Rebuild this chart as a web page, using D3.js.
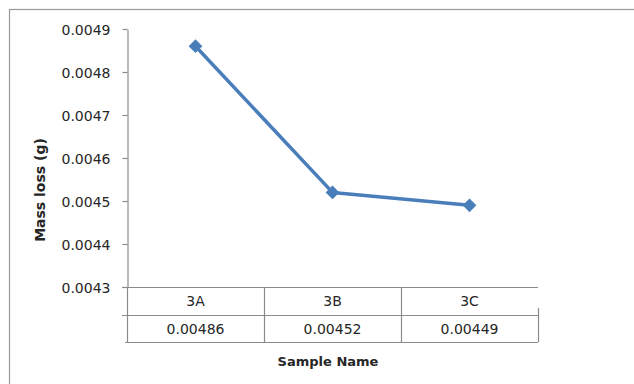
<!DOCTYPE html>
<html>
<head>
<meta charset="utf-8">
<script src="https://cdn.jsdelivr.net/npm/d3@7"></script>
<style>
  html, body { margin: 0; padding: 0; background: #fff; }
  svg { display: block; }
  text { font-family: "DejaVu Sans", sans-serif; fill: #262626; }
</style>
</head>
<body>
<svg id="chart" width="634" height="384"></svg>
<script>
// Sample names and their measured mass loss
const samples = ["3A", "3B", "3C"];
const massLoss = [0.00486, 0.00452, 0.00449];
const yTicks = [0.0043, 0.0044, 0.0045, 0.0046, 0.0047, 0.0048, 0.0049];
const yTitle = "Mass loss (g)";
const xTitle = "Sample Name";

const svg = d3.select("#chart");
const plot = { left: 127, right: 538, top: 29, bottom: 287 };
const rowH = [287, 315, 342];
const gridColor = "#8a8a8a";
const lineColor = "#4a7ebb";

// chart frame (runs past the right and bottom edges)
svg.append("rect")
  .attr("x", 9.5).attr("y", 9.5)
  .attr("width", 800).attr("height", 600)
  .attr("fill", "none").attr("stroke", "#9a9a9a").attr("stroke-width", 1.2);

const x = d3.scaleBand().domain(samples).range([plot.left, plot.right]);
const y = d3.scaleLinear().domain([0.0043, 0.0049]).range([plot.bottom, plot.top]);

// value axis
const yAxis = svg.append("g")
  .attr("transform", `translate(${plot.left + 0.5},0)`)
  .call(d3.axisLeft(y).tickValues(yTicks).tickFormat(d3.format(".4f"))
        .tickSize(5).tickSizeOuter(0).tickPadding(12));
yAxis.attr("font-size", 14).attr("font-family", "DejaVu Sans, sans-serif");
yAxis.select(".domain").attr("stroke", gridColor).attr("stroke-width", 1.2);
yAxis.selectAll(".tick line").attr("stroke", gridColor).attr("stroke-width", 1.2);
yAxis.selectAll(".tick text")
  .attr("font-size", 14).attr("fill", "#262626").attr("dy", "0.36em");

// data table under the plot
const tbl = svg.append("g").attr("stroke", gridColor).attr("stroke-width", 1.2).attr("fill", "none");
const hline = (y0, x0, x1) => tbl.append("line").attr("x1", x0).attr("x2", x1).attr("y1", y0 + 0.5).attr("y2", y0 + 0.5);
const vline = (x0, y0, y1) => tbl.append("line").attr("x1", x0 + 0.5).attr("x2", x0 + 0.5).attr("y1", y0).attr("y2", y1);
hline(rowH[0], plot.left - 5, plot.right);
hline(rowH[1], plot.left - 5, plot.right);
hline(rowH[2], plot.left - 2, plot.right);
vline(plot.left, rowH[0], rowH[2]);
samples.slice(1).forEach(s => vline(x(s), rowH[0], rowH[2]));
vline(plot.right, 308, rowH[2]);

svg.append("g").selectAll("text").data(samples).join("text")
  .attr("x", d => x(d) + x.bandwidth() / 2)
  .attr("y", 306)
  .attr("text-anchor", "middle")
  .attr("font-size", 14)
  .text(d => d);

svg.append("g").selectAll("text").data(massLoss).join("text")
  .attr("x", (d, i) => x(samples[i]) + x.bandwidth() / 2)
  .attr("y", 333.5)
  .attr("text-anchor", "middle")
  .attr("font-size", 14)
  .text(d => d3.format(".5f")(d));

// series line with diamond markers
const pts = samples.map((s, i) => [x(s) + x.bandwidth() / 2, y(massLoss[i])]);
svg.append("path")
  .attr("d", d3.line()(pts))
  .attr("fill", "none").attr("stroke", lineColor)
  .attr("stroke-width", 3.5).attr("stroke-linejoin", "round");
svg.append("g").selectAll("path").data(pts).join("path")
  .attr("transform", d => `translate(${d[0]},${d[1]})`)
  .attr("d", d3.symbol(d3.symbolDiamond2, 120)())
  .attr("fill", lineColor);

// axis titles
svg.append("text")
  .attr("transform", "translate(45,190) rotate(-90)")
  .attr("text-anchor", "middle")
  .attr("font-size", 14).attr("font-weight", "bold")
  .text(yTitle);

svg.append("text")
  .attr("x", 328).attr("y", 366)
  .attr("text-anchor", "middle")
  .attr("font-size", 13).attr("font-weight", "bold")
  .text(xTitle);
</script>
</body>
</html>
